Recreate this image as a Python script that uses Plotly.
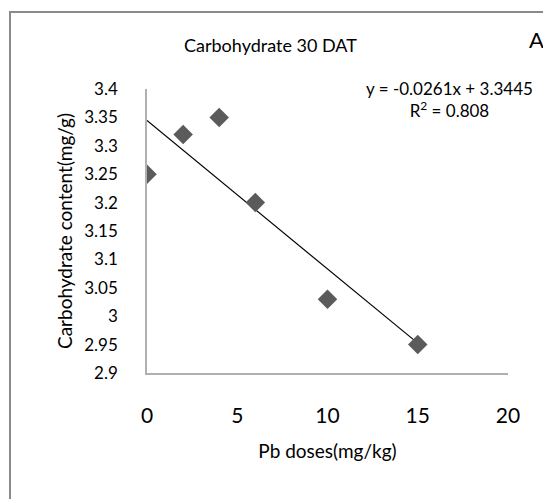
import numpy as np
import plotly.graph_objects as go

# Data
pb_doses = [0, 2, 4, 6, 10, 15]
carbohydrate = [3.25, 3.32, 3.35, 3.20, 3.03, 2.95]
y_tick_vals = [2.9, 2.95, 3.0, 3.05, 3.1, 3.15, 3.2, 3.25, 3.3, 3.35, 3.4]
y_tick_text = ["2.9", "2.95", "3", "3.05", "3.1", "3.15", "3.2", "3.25", "3.3", "3.35", "3.4"]
x_tick_vals = [0, 5, 10, 15, 20]

# Linear trendline
slope, intercept = np.polyfit(pb_doses, carbohydrate, 1)
pred = slope * np.array(pb_doses) + intercept
ss_res = np.sum((np.array(carbohydrate) - pred) ** 2)
ss_tot = np.sum((np.array(carbohydrate) - np.mean(carbohydrate)) ** 2)
r2 = 1 - ss_res / ss_tot
trend_x = [min(pb_doses), max(pb_doses)]
trend_y = [slope * x + intercept for x in trend_x]

FONT = "Lato"
W, H = 543, 499
L, R, T, B = 147, 35, 89, 126
pw, ph = W - L - R, H - T - B

def px(x):
    return (x - L) / pw

def py(y):
    return (H - B - y) / ph

fig = go.Figure()
fig.add_trace(go.Scatter(
    x=trend_x, y=trend_y, mode="lines",
    line=dict(color="black", width=1.2), showlegend=False, hoverinfo="skip"))
fig.add_trace(go.Scatter(
    x=pb_doses, y=carbohydrate, mode="markers",
    marker=dict(symbol="diamond", size=15, color="#5b5b5b"),
    showlegend=False))

fig.update_layout(
    width=W, height=H,
    margin=dict(l=L, r=R, t=T, b=B),
    paper_bgcolor="white", plot_bgcolor="white",
    font=dict(family=FONT, color="black"),
    showlegend=False,
    xaxis=dict(
        range=[0, 20], tickvals=x_tick_vals, showgrid=False, zeroline=False,
        showline=True, linecolor="#b0b0b0", linewidth=1.5,
        ticks="", ticklabelstandoff=23, tickfont=dict(size=21, family=FONT),
        title=dict(text="Pb doses(mg/kg)", font=dict(size=19, family=FONT), standoff=19),
    ),
    yaxis=dict(
        range=[2.9, 3.4], tickvals=y_tick_vals, ticktext=y_tick_text,
        showgrid=False, zeroline=False,
        showline=True, linecolor="#b0b0b0", linewidth=1.5,
        ticks="", ticklabelstandoff=24, tickfont=dict(size=17, family=FONT),
        title=dict(text="Carbohydrate content(mg/g)", font=dict(size=19, family=FONT), standoff=7),
    ),
    shapes=[dict(
        type="rect", xref="paper", yref="paper",
        x0=px(10), x1=px(600), y0=py(560), y1=py(12),
        line=dict(color="#8a8a8a", width=2), fillcolor="rgba(0,0,0,0)", layer="below")],
    annotations=[
        dict(text="Carbohydrate 30 DAT", xref="paper", yref="paper",
             x=px(270), y=py(45), xanchor="center", yanchor="middle",
             showarrow=False, font=dict(size=18, family=FONT)),
        dict(text="A", xref="paper", yref="paper",
             x=px(536), y=py(40), xanchor="center", yanchor="middle",
             showarrow=False, font=dict(size=22, family=FONT)),
        dict(text=f"y = {slope:.4f}x + {intercept:.4f}<br>R<sup>2</sup> = {r2:.3f}",
             xref="paper", yref="paper", x=px(449), y=py(100),
             xanchor="center", yanchor="middle", showarrow=False,
             align="center", font=dict(size=17, family=FONT)),
    ],
)

fig.write_html("out.html")
